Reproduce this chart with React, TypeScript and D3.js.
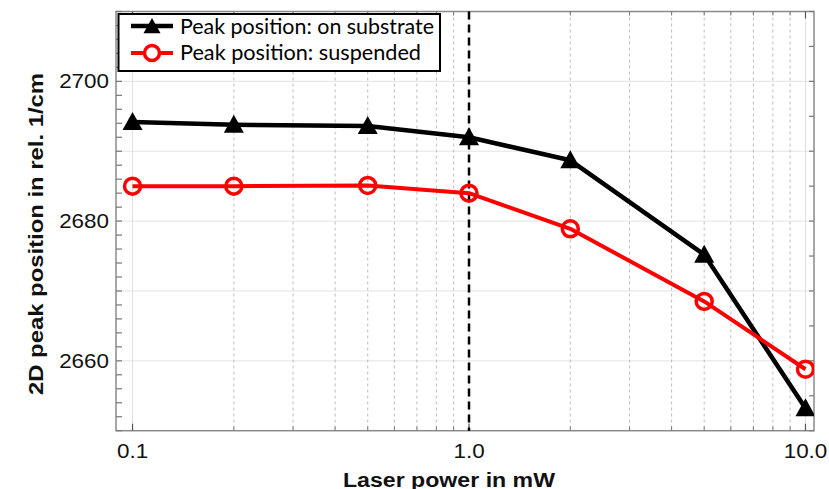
import React from "react";
import * as d3 from "d3";

const power = [0.1, 0.2, 0.5, 1, 2, 5, 10];
const substrate = [2694.2, 2693.8, 2693.6, 2692.0, 2688.7, 2675.2, 2653.2];
const suspended = [2685.0, 2685.0, 2685.1, 2684.0, 2678.9, 2668.5, 2658.8];
const xTickValues = [0.1, 1, 10];
const xTickLabels = ["0.1", "1.0", "10.0"];
const yTickValues = [2660, 2680, 2700];
const xDomain = [0.0893, 10.6];
const yDomain = [2650, 2710];
const legendLabels = ["Peak position: on substrate", "Peak position: suspended"];
const xTitle = "Laser power in mW";
const yTitle = "2D peak position in rel. 1/cm";

const W = 829;
const H = 489;
const L = 116, R = 814, T = 11.5, B = 430.7;

export default function App() {
  const x = d3.scaleLog().domain(xDomain).range([L, R]);
  const y = d3.scaleLinear().domain(yDomain).range([B, T]);

  const minorX: number[] = [];
  for (const dec of [0.1, 1]) for (let k = 2; k <= 9; k++) minorX.push(dec * k);
  const leftTicks = d3.range(2650, 2711, 2);
  const rightTicks = d3.range(2650, 2711, 5);
  const hGrid = d3.range(2660, 2710, 10);

  const line = d3.line<number>().x((_, i) => x(power[i])).y((v) => y(v));

  const tri = (cx: number, cy: number, s = 1) =>
    `M${cx},${cy - 10 * s}L${cx + 10 * s},${cy + 8 * s}L${cx - 10 * s},${cy + 8 * s}Z`;

  const tickFont = "Liberation Sans, Arial, sans-serif";

  return (
    <svg width={W} height={H} style={{ position: "absolute", left: 0, top: 0 }}>
      <rect x={0} y={0} width={W} height={H} fill="#fff" />
      <defs>
        <clipPath id="plot">
          <rect x={L} y={T} width={R - L} height={B - T} />
        </clipPath>
      </defs>
      {/* grid */}
      {hGrid.map((v) => (
        <line key={"h" + v} x1={L} x2={R} y1={y(v)} y2={y(v)} stroke="#e3e3e3" strokeWidth={1} />
      ))}
      {minorX.map((v) => (
        <line key={"vx" + v} x1={x(v)} x2={x(v)} y1={T} y2={B} stroke="#bdbdbd" strokeWidth={1} strokeDasharray="3,3" />
      ))}
      {xTickValues.map((v) => (
        <line key={"vm" + v} x1={x(v)} x2={x(v)} y1={T} y2={B} stroke="#e0e0e0" strokeWidth={1} />
      ))}
      {/* frame */}
      <rect x={L} y={T} width={R - L} height={B - T} fill="none" stroke="#8a8a8a" strokeWidth={1.5} />
      {/* ticks */}
      {leftTicks.map((v) => (
        <line key={"lt" + v} x1={L} x2={L + 6} y1={y(v)} y2={y(v)} stroke="#777" strokeWidth={1.2} />
      ))}
      {rightTicks.map((v) => (
        <line key={"rt" + v} x1={R - 5} x2={R} y1={y(v)} y2={y(v)} stroke="#777" strokeWidth={1.2} />
      ))}
      {xTickValues.map((v) => (
        <g key={"xt" + v}>
          <line x1={x(v)} x2={x(v)} y1={B} y2={B - 7} stroke="#555" strokeWidth={1.2} />
          <line x1={x(v)} x2={x(v)} y1={T} y2={T + 7} stroke="#555" strokeWidth={1.2} />
        </g>
      ))}
      {minorX.map((v) => (
        <g key={"xm" + v}>
          <line x1={x(v)} x2={x(v)} y1={B} y2={B - 4} stroke="#777" strokeWidth={1} />
          <line x1={x(v)} x2={x(v)} y1={T} y2={T + 4} stroke="#777" strokeWidth={1} />
        </g>
      ))}
      {/* vertical dashed reference line */}
      <line x1={x(1)} x2={x(1)} y1={T} y2={B} stroke="#000" strokeWidth={2.5} strokeDasharray="8,5" />
      {/* series */}
      <g clipPath="url(#plot)">
        <path d={line(substrate) || ""} fill="none" stroke="#000" strokeWidth={4.5} strokeLinejoin="round" />
        {substrate.map((v, i) => (
          <path key={"s" + i} d={tri(x(power[i]), y(v))} fill="#000" />
        ))}
        <path d={line(suspended) || ""} fill="none" stroke="#ff0000" strokeWidth={4} strokeLinejoin="round" />
        {suspended.map((v, i) => (
          <circle key={"c" + i} cx={x(power[i])} cy={y(v)} r={8} fill="none" stroke="#ff0000" strokeWidth={3.5} />
        ))}
      </g>
      {/* tick labels */}
      {yTickValues.map((v) => (
        <text
          key={"yl" + v}
          transform={`translate(109,${y(v) + 7}) scale(1.15,1)`}
          textAnchor="end"
          fontFamily={tickFont}
          fontSize={19.5}
          fill="#111"
        >
          {String(v)}
        </text>
      ))}
      {xTickValues.map((v, i) => (
        <text
          key={"xl" + v}
          transform={`translate(${x(v)},458) scale(1.15,1)`}
          textAnchor="middle"
          fontFamily={tickFont}
          fontSize={19.5}
          fill="#111"
        >
          {xTickLabels[i]}
        </text>
      ))}
      {/* axis titles */}
      <text x={343} y={486.5} textLength={212} lengthAdjust="spacingAndGlyphs" fontFamily={tickFont} fontWeight="bold" fontSize={19.5} fill="#111">
        {xTitle}
      </text>
      <text
        transform="translate(42.5,395) rotate(-90)"
        textLength={322}
        lengthAdjust="spacingAndGlyphs"
        fontFamily={tickFont}
        fontWeight="bold"
        fontSize={21}
        fill="#111"
      >
        {yTitle}
      </text>
      {/* legend */}
      <rect x={118.5} y={14} width={321.5} height={57} fill="#fff" stroke="#000" strokeWidth={2} />
      <line x1={131} x2={173} y1={26} y2={26} stroke="#000" strokeWidth={4.5} />
      <path d={tri(152, 26.5, 0.85)} fill="#000" />
      <line x1={131} x2={173} y1={53} y2={53} stroke="#ff0000" strokeWidth={4} />
      <circle cx={152} cy={53} r={7.5} fill="#fff" stroke="#ff0000" strokeWidth={3.5} />
      <text x={180} y={33.5} textLength={254} lengthAdjust="spacingAndGlyphs" fontFamily="Lato, Open Sans, sans-serif" fontSize={21} fill="#000">
        {legendLabels[0]}
      </text>
      <text x={180} y={60} textLength={241} lengthAdjust="spacingAndGlyphs" fontFamily="Lato, Open Sans, sans-serif" fontSize={21} fill="#000">
        {legendLabels[1]}
      </text>
    </svg>
  );
}
